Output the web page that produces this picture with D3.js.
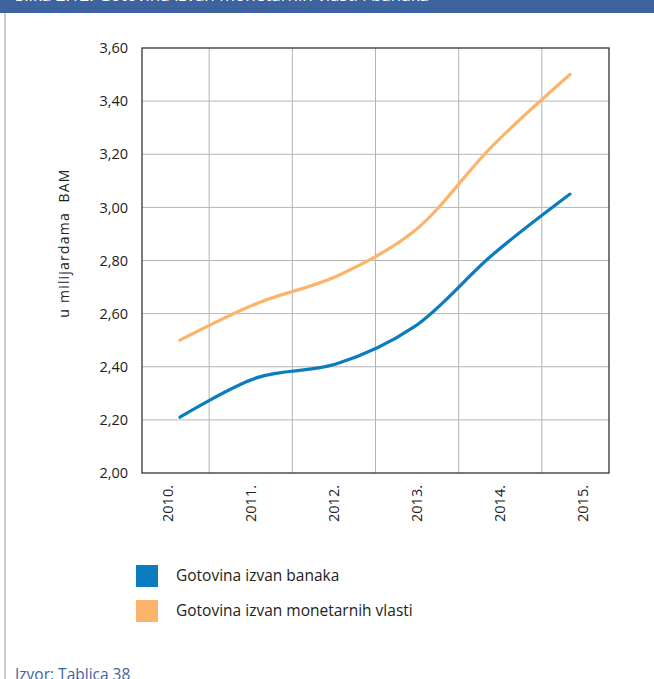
<!DOCTYPE html>
<html>
<head>
<meta charset="utf-8">
<script src="https://cdn.jsdelivr.net/npm/d3@7"></script>
<style>
  body { margin: 0; background: #fff; }
  text { font-family: "Open Sans", "Noto Sans", sans-serif; }
</style>
</head>
<body>
<svg id="chart" width="654" height="679"></svg>
<script>
// podaci (u milijardama BAM)
const years = ["2010.", "2011.", "2012.", "2013.", "2014.", "2015."];
const gotovinaBanaka = [2.21, 2.36, 2.41, 2.55, 2.82, 3.05];
const gotovinaMonetarnih = [2.50, 2.64, 2.74, 2.91, 3.23, 3.50];
const yTicks = [2.0, 2.2, 2.4, 2.6, 2.8, 3.0, 3.2, 3.4, 3.6];
const seriesNames = ["Gotovina izvan banaka", "Gotovina izvan monetarnih vlasti"];
const seriesColors = ["#0a7dc0", "#fbb46a"];

const svg = d3.select("#chart");
const W = +svg.attr("width");
const H = +svg.attr("height");

// okvir stranice
svg.append("rect").attr("x", 0).attr("y", 0).attr("width", W).attr("height", 13).attr("fill", "#3e64a0");
svg.append("text")
  .attr("x", 15).attr("y", 1)
  .attr("fill", "#fff")
  .style("font-size", "17px")
  .text("Slika 2.12: Gotovina izvan monetarnih vlasti i banaka");
svg.append("line")
  .attr("x1", 5).attr("x2", 5).attr("y1", 13).attr("y2", H)
  .attr("stroke", "#999").attr("stroke-width", 1);

// područje grafikona
const plot = { left: 142, right: 609, top: 48, bottom: 473 };

const y = d3.scaleLinear().domain([2.0, 3.6]).range([plot.bottom, plot.top]);
const xBand = d3.scaleBand().domain(years).range([126, 625]);
const xPt = d3.scalePoint().domain(years).range([180, 570]);

const g = svg.append("g");

// mreža - horizontalne
g.append("g")
  .selectAll("line")
  .data(yTicks.slice(1, -1))
  .enter().append("line")
  .attr("x1", plot.left).attr("x2", plot.right)
  .attr("y1", d => y(d)).attr("y2", d => y(d))
  .attr("stroke", "#b4b4b4").attr("stroke-width", 1);

// mreža - vertikalne (granice kategorija)
g.append("g")
  .selectAll("line")
  .data(years.slice(1))
  .enter().append("line")
  .attr("x1", d => xBand(d)).attr("x2", d => xBand(d))
  .attr("y1", plot.top).attr("y2", plot.bottom)
  .attr("stroke", "#b4b4b4").attr("stroke-width", 1);

// okvir
g.append("rect")
  .attr("x", plot.left).attr("y", plot.top)
  .attr("width", plot.right - plot.left).attr("height", plot.bottom - plot.top)
  .attr("fill", "none").attr("stroke", "#333").attr("stroke-width", 1.3);

// Y oznake
const yAxis = d3.axisLeft(y)
  .tickValues(yTicks)
  .tickSize(0)
  .tickPadding(14)
  .tickFormat(d => d3.format(".2f")(d).replace(".", ","));
g.append("g")
  .attr("transform", `translate(${plot.left},0)`)
  .call(yAxis)
  .call(s => s.select(".domain").remove())
  .selectAll("text")
  .style("font-size", "14.5px")
  .style("font-family", "'Open Sans', sans-serif")
  .attr("fill", "#222");

// X oznake (rotirane)
g.append("g")
  .selectAll("text")
  .data(years)
  .enter().append("text")
  .attr("transform", d => `translate(${xBand(d) + xBand.bandwidth() / 2 + 5},485) rotate(-90)`)
  .attr("text-anchor", "end")
  .style("font-size", "14.5px")
  .attr("fill", "#222")
  .text(d => d);

// naziv Y osi
svg.append("text")
  .attr("transform", "translate(69,243) rotate(-90)")
  .attr("text-anchor", "middle")
  .style("font-size", "14px")
  .style("letter-spacing", "1.2px")
  .attr("fill", "#222")
  .style("white-space", "pre")
  .text("u milijardama  BAM");

// linije
const line = d3.line()
  .x((d, i) => xPt(years[i]))
  .y(d => y(d))
  .curve(d3.curveCatmullRom.alpha(0.5));

[gotovinaMonetarnih, gotovinaBanaka].forEach((vals, k) => {
  g.append("path")
    .datum(vals)
    .attr("d", line)
    .attr("fill", "none")
    .attr("stroke", k === 0 ? seriesColors[1] : seriesColors[0])
    .attr("stroke-width", 3.2)
    .attr("stroke-linecap", "round");
});

// legenda
const leg = svg.append("g").attr("transform", "translate(136,565)");
seriesNames.forEach((name, i) => {
  leg.append("rect")
    .attr("x", 0).attr("y", i * 35)
    .attr("width", 22).attr("height", 22)
    .attr("fill", seriesColors[i]);
  leg.append("text")
    .attr("x", 40).attr("y", i * 35 + 16)
    .style("font-size", "15.5px")
    .attr("fill", "#222")
    .text(name);
});

// izvor
svg.append("text")
  .attr("x", 15).attr("y", 680)
  .attr("fill", "#3e64a0")
  .style("font-size", "15.5px")
  .text("Izvor: Tablica 38");
</script>
</body>
</html>
